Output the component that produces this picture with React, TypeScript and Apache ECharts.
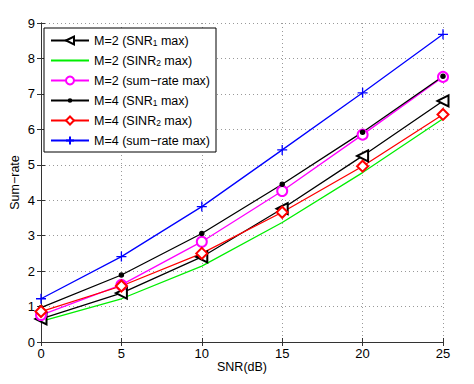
import React, { useEffect, useRef } from "react";
import * as echarts from "echarts";

const snr = [0, 5, 10, 15, 20, 25];
const names = [
  "M=2 (SNR1 max)",
  "M=2 (SINR2 max)",
  "M=2 (sum\u2212rate max)",
  "M=4 (SNR1 max)",
  "M=4 (SINR2 max)",
  "M=4 (sum\u2212rate max)",
];
const m2Snr1 = [0.65, 1.38, 2.4, 3.76, 5.25, 6.8];
const m2Sinr2 = [0.58, 1.22, 2.14, 3.37, 4.78, 6.3];
const m2Sum = [0.76, 1.61, 2.83, 4.26, 5.85, 7.48];
const m4Snr1 = [0.97, 1.89, 3.06, 4.45, 5.92, 7.5];
const m4Sinr2 = [0.86, 1.58, 2.5, 3.66, 4.96, 6.42];
const m4Sum = [1.22, 2.41, 3.82, 5.42, 7.03, 8.68];

const plus = "path://M0,5L10,5M5,0L5,10";
const dot = "path://M0,0M10,10M3.4,5A1.6,1.6,0,1,1,6.6,5A1.6,1.6,0,1,1,3.4,5Z";
const nothing = "path://M0,0M10,10";

export default function App() {
  const ref = useRef<HTMLDivElement>(null);
  useEffect(() => {
    if (!ref.current) return;
    const chart = echarts.init(ref.current, undefined, { renderer: "svg" });
    const font = "Liberation Sans, Arial, sans-serif";
    const mk = (name: string, data: number[], color: string, symbol: string, size: number, extra: any = {}) => ({
      name,
      type: "line",
      data: snr.map((x, i) => [x, data[i]]),
      showSymbol: symbol !== nothing,
      symbol,
      symbolSize: size,
      lineStyle: { color, width: 1.3 },
      itemStyle: { color, borderColor: color, borderWidth: 1.3 },
      emphasis: { disabled: true },
      ...extra,
    });
    const axisLineStyle = { color: "#333", width: 1 };
    chart.setOption({
      animation: false,
      backgroundColor: "#fff",
      textStyle: { fontFamily: font },
      grid: { left: 38, right: 31, top: 23, bottom: 42, show: false },
      legend: {
        orient: "vertical",
        left: 44,
        top: 28,
        padding: [5, 6, 4, 6],
        itemGap: 5,
        itemWidth: 38,
        itemHeight: 10,
        backgroundColor: "#fff",
        borderColor: "#000",
        borderWidth: 1,
        borderRadius: 0,
        data: names,
        formatter: (n: string) => n.replace(/(SI?NR)(\d)/, "$1{sub|$2}"),
        textStyle: {
          fontFamily: font,
          fontSize: 12.5,
          lineHeight: 15,
          color: "#000",
          rich: {
            sub: { fontSize: 8.5, lineHeight: 11, fontFamily: font, color: "#000", padding: [4, 0, 0, 0] },
          },
        },
      },
      xAxis: [
        {
          type: "value",
          min: 0,
          max: 25,
          interval: 5,
          name: "SNR(dB)",
          nameLocation: "middle",
          nameGap: 18,
          nameMoveOverlap: false,
          nameTextStyle: { fontSize: 12.5, color: "#000", fontFamily: font },
          axisLine: { show: true, lineStyle: axisLineStyle },
          axisTick: { show: true, inside: true, length: 4, lineStyle: axisLineStyle },
          axisLabel: { fontSize: 13, color: "#000", margin: 5, fontFamily: font },
          splitLine: { show: true, lineStyle: { color: "#999", type: [1, 3], width: 1 } },
        },
        {
          type: "value",
          position: "top",
          min: 0,
          max: 25,
          interval: 5,
          axisLine: { show: true, lineStyle: axisLineStyle },
          axisTick: { show: true, inside: true, length: 4, lineStyle: axisLineStyle },
          axisLabel: { show: false },
          splitLine: { show: false },
        },
      ],
      yAxis: [
        {
          type: "value",
          min: 0,
          max: 9,
          interval: 1,
          name: "Sum\u2212rate",
          nameLocation: "middle",
          nameGap: 20,
          nameMoveOverlap: false,
          nameTextStyle: { fontSize: 12.5, color: "#000", fontFamily: font },
          axisLine: { show: true, lineStyle: axisLineStyle },
          axisTick: { show: true, inside: true, length: 4, lineStyle: axisLineStyle },
          axisLabel: { fontSize: 13, color: "#000", margin: 6, fontFamily: font },
          splitLine: { show: true, lineStyle: { color: "#999", type: [1, 3], width: 1 } },
        },
        {
          type: "value",
          position: "right",
          min: 0,
          max: 9,
          interval: 1,
          axisLine: { show: true, lineStyle: axisLineStyle },
          axisTick: { show: true, inside: true, length: 4, lineStyle: axisLineStyle },
          axisLabel: { show: false },
          splitLine: { show: false },
        },
      ],
      series: [
        mk(names[0], m2Snr1, "#000000", "emptyTriangle", 11, { symbolRotate: 90 }),
        mk(names[1], m2Sinr2, "#00ee00", nothing, 10),
        mk(names[2], m2Sum, "#ff00ff", "emptyCircle", 10),
        mk(names[3], m4Snr1, "#000000", dot, 13),
        mk(names[4], m4Sinr2, "#ff0000", "emptyDiamond", 11),
        mk(names[5], m4Sum, "#0000ff", plus, 10, { itemStyle: { color: "none", borderColor: "#0000ff", borderWidth: 1.3 } }),
      ],
    });
    return () => chart.dispose();
  }, []);
  return <div ref={ref} style={{ width: 474, height: 384, margin: -8 }} />;
}
